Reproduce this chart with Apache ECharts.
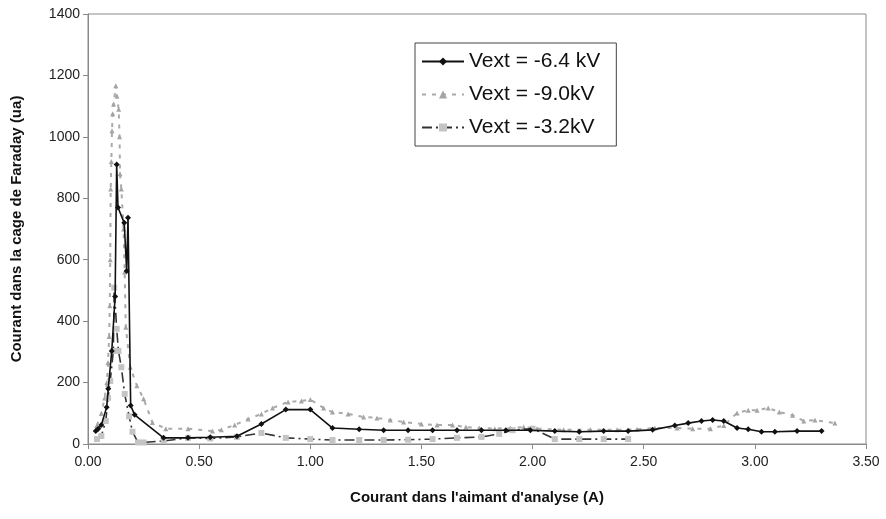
<!DOCTYPE html>
<html>
<head>
<meta charset="utf-8">
<script src="https://cdn.jsdelivr.net/npm/echarts@6/dist/echarts.min.js"></script>
<style>
  html, body { margin: 0; padding: 0; background: #fff; }
  #main { width: 886px; height: 519px; }
</style>
</head>
<body>
<div id="main"></div>
<script>
// Vext = -6.4 kV (noir, trait plein)
var xV64 = [0.035, 0.046, 0.06, 0.084, 0.091, 0.107, 0.122, 0.129, 0.135, 0.163, 0.174, 0.18, 0.192, 0.21,
            0.34, 0.45, 0.55, 0.67, 0.78, 0.89, 1.00, 1.10, 1.22, 1.33, 1.44, 1.55, 1.66, 1.77, 1.88, 1.99,
            2.10, 2.21, 2.32, 2.43, 2.54, 2.64, 2.70, 2.76, 2.81, 2.86, 2.92, 2.97, 3.03, 3.09, 3.19, 3.30];
var yV64 = [42, 50, 62, 120, 180, 303, 480, 910, 770, 720, 563, 737, 125, 95,
            20, 20, 22, 25, 65, 112, 112, 52, 48, 45, 45, 45, 45, 45, 45, 45,
            42, 40, 42, 42, 46, 60, 68, 75, 78, 75, 52, 48, 40, 40, 42, 42];

// Vext = -9.0 kV (gris clair, tirets)
var xV90 = [0.04, 0.06, 0.075, 0.085, 0.09, 0.095, 0.098, 0.1, 0.102, 0.105, 0.108, 0.111, 0.115, 0.125,
            0.13, 0.138, 0.142, 0.144, 0.15, 0.16, 0.165, 0.17, 0.19, 0.22, 0.25, 0.29, 0.35, 0.45, 0.56,
            0.60, 0.66, 0.72, 0.78, 0.83, 0.90, 0.96, 1.00, 1.06, 1.10, 1.17, 1.24, 1.30, 1.36, 1.42, 1.50,
            1.57, 1.64, 1.70, 1.76, 1.83, 1.90, 1.96, 2.02, 2.14, 2.26, 2.38, 2.47, 2.55, 2.65, 2.72, 2.80,
            2.86, 2.92, 2.97, 3.01, 3.06, 3.11, 3.17, 3.22, 3.27, 3.36];
var yV90 = [60, 100, 150, 200, 265, 350, 450, 600, 830, 920, 1020, 1075, 1107, 1166,
            1133, 1090, 1000, 880, 830, 700, 560, 380, 250, 190, 147, 70, 50, 50, 42,
            46, 62, 81, 98, 117, 137, 140, 145, 117, 104, 98, 88, 85, 78, 72, 65,
            62, 62, 55, 52, 50, 52, 55, 50, 46, 46, 46, 48, 52, 52, 50, 50,
            60, 101, 110, 110, 117, 104, 94, 75, 78, 68];

// Vext = -3.2 kV (tiret-point, carres gris)
var xV32 = [0.04, 0.06, 0.08, 0.09, 0.1, 0.114, 0.118, 0.129, 0.137, 0.15, 0.165, 0.185, 0.2, 0.225,
            0.25, 0.34, 0.45, 0.55, 0.67, 0.78, 0.89, 1.00, 1.10, 1.22, 1.33, 1.44, 1.55, 1.66, 1.77,
            1.85, 1.91, 2.00, 2.10, 2.21, 2.32, 2.43];
var yV32 = [16, 26, 75, 150, 205, 303, 509, 375, 303, 250, 163, 90, 40, 5,
            5, 10, 20, 18, 23, 36, 20, 16, 13, 13, 13, 14, 16, 20, 23,
            33, 45, 50, 16, 16, 16, 16];

var xMin = 0, xMax = 3.5, xStep = 0.5;
var yMin = 0, yMax = 1400, yStep = 200;

function pairs(xs, ys) {
    var out = [];
    for (var i = 0; i < xs.length; i++) {
        out.push([xs[i], ys[i]]);
    }
    return out;
}

var font = '"Liberation Sans", Arial, sans-serif';
var myChart = echarts.init(document.getElementById('main'));

myChart.setOption({
    backgroundColor: '#fff',
    animation: false,
    textStyle: { fontFamily: font },
    grid: {
        left: 88, right: 20, top: 14, bottom: 75,
        show: true, borderColor: '#8a8a8a', borderWidth: 1
    },
    legend: {
        orient: 'vertical',
        left: 415, top: 43,
        padding: [8, 16, 8, 6],
        itemGap: 12,
        itemWidth: 42, itemHeight: 10,
        borderColor: '#444', borderWidth: 1,
        backgroundColor: '#fff',
        textStyle: { fontFamily: font, fontSize: 21, color: '#111' },
        data: ['Vext = -6.4 kV', 'Vext = -9.0kV', 'Vext = -3.2kV']
    },
    xAxis: {
        type: 'value',
        min: xMin, max: xMax, interval: xStep,
        name: "Courant dans l'aimant d'analyse (A)",
        nameLocation: 'middle', nameGap: 46,
        nameTextStyle: { fontFamily: font, fontSize: 15, fontWeight: 'bold', color: '#111' },
        axisLine: { lineStyle: { color: '#8a8a8a' } },
        axisTick: { inside: false, length: 5, lineStyle: { color: '#8a8a8a' } },
        axisLabel: {
            margin: 11, fontSize: 14, color: '#222',
            formatter: function (v) { return v.toFixed(2); }
        },
        splitLine: { show: false }
    },
    yAxis: {
        type: 'value',
        min: yMin, max: yMax, interval: yStep,
        name: 'Courant dans la cage de Faraday (ua)',
        nameLocation: 'middle', nameGap: 64, nameRotate: 90,
        nameTextStyle: { fontFamily: font, fontSize: 15, fontWeight: 'bold', color: '#111' },
        axisLine: { show: true, lineStyle: { color: '#8a8a8a' } },
        axisTick: { show: true, inside: false, length: 5, lineStyle: { color: '#8a8a8a' } },
        axisLabel: {
            margin: 8, fontSize: 14, color: '#222',
            formatter: function (v) { return String(v); }
        },
        splitLine: { show: false }
    },
    series: [
        {
            name: 'Vext = -6.4 kV',
            type: 'line',
            data: pairs(xV64, yV64),
            symbol: 'diamond', symbolSize: 6,
            lineStyle: { color: '#111', width: 1.6, type: 'solid' },
            itemStyle: { color: '#111' },
            z: 4
        },
        {
            name: 'Vext = -9.0kV',
            type: 'line',
            data: pairs(xV90, yV90),
            symbol: 'triangle', symbolSize: 5,
            lineStyle: { color: '#aaaaaa', width: 2, type: [4, 6] },
            itemStyle: { color: '#a4a4a4' },
            z: 2
        },
        {
            name: 'Vext = -3.2kV',
            type: 'line',
            data: pairs(xV32, yV32),
            symbol: 'rect', symbolSize: 6,
            lineStyle: { color: '#333', width: 1.6, type: [10, 4, 2, 4] },
            itemStyle: { color: '#c4c4c4' },
            z: 3
        }
    ]
});
</script>
</body>
</html>
